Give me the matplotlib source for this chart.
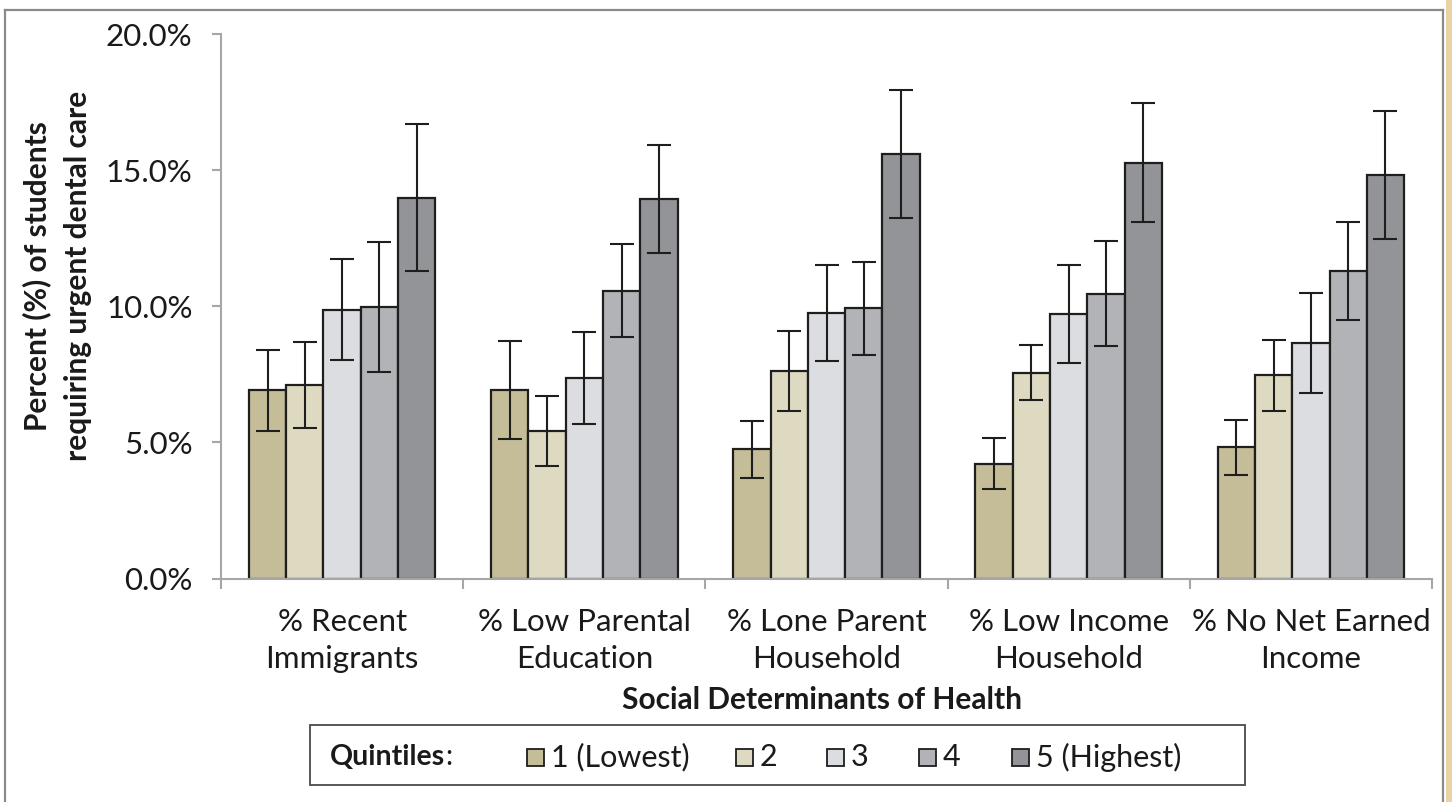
import matplotlib
matplotlib.use("Agg")
import matplotlib.pyplot as plt
import numpy as np
from matplotlib.patches import Rectangle
from matplotlib.lines import Line2D
from matplotlib.ticker import FixedLocator, FuncFormatter

# ---- data -------------------------------------------------------------
categories = ["% Recent\nImmigrants", "% Low Parental\nEducation",
              "% Lone Parent\nHousehold", "% Low Income\nHousehold",
              "% No Net Earned\nIncome"]
quintiles = ["1 (Lowest)", "2", "3", "4", "5 (Highest)"]

# percent of students requiring urgent dental care, by quintile
q1 = [6.91, 6.92, 4.74, 4.22, 4.82]
q2 = [7.10, 5.42, 7.62, 7.56, 7.46]
q3 = [9.88, 7.36, 9.76, 9.71, 8.64]
q4 = [9.97, 10.57, 9.92, 10.46, 11.30]
q5 = [13.99, 13.95, 15.59, 15.28, 14.83]

# 95% confidence half-widths
e1 = [1.50, 1.81, 1.06, 0.95, 1.00]
e2 = [1.57, 1.27, 1.46, 1.02, 1.31]
e3 = [1.85, 1.68, 1.76, 1.80, 1.83]
e4 = [2.40, 1.70, 1.70, 1.93, 1.79]
e5 = [2.70, 1.98, 2.34, 2.18, 2.35]

yticks = [0, 5, 10, 15, 20]

series = [q1, q2, q3, q4, q5]
errors = [e1, e2, e3, e4, e5]
colors = ["#c5bd98", "#dedac2", "#dcdde0", "#b2b3b6", "#939498"]

# ---- figure -----------------------------------------------------------
W, H = 1452, 802
fig = plt.figure(figsize=(W / 100, H / 100), dpi=100)
plt.rcParams["font.family"] = ["Lato", "DejaVu Sans"]
ink = "#1a1a1a"


def fx(px):
    return px / W


def fy(py):
    return 1 - py / H


ax = fig.add_axes([fx(221), fy(578.5), fx(1432) - fx(221), fy(34) - fy(578.5)])

x = np.arange(len(categories))
bw = 0.154
for k, (vals, errs, col) in enumerate(zip(series, errors, colors)):
    ax.bar(x + (k - 2) * bw, vals, width=bw, color=col, edgecolor="#1e1e1e",
           linewidth=1.6, zorder=2, label=quintiles[k])
    ax.errorbar(x + (k - 2) * bw, vals, yerr=errs, fmt="none",
                ecolor="#1e1e1e", elinewidth=1.5, capsize=8.5,
                capthick=1.5, zorder=3)

ax.set_xlim(-0.5, len(categories) - 0.5)
ax.set_ylim(0, 20)

axis_grey = "#a6a6a6"
for s in ["top", "right"]:
    ax.spines[s].set_visible(False)
for s in ["left", "bottom"]:
    ax.spines[s].set_color(axis_grey)
    ax.spines[s].set_linewidth(1.5)

ax.yaxis.set_major_locator(FixedLocator(yticks))
ax.yaxis.set_major_formatter(FuncFormatter(lambda v, p: f"{v:.1f}%"))
ax.tick_params(axis="y", direction="out", length=6.5, width=1.5,
               color=axis_grey, pad=14, labelsize=22.5, labelcolor=ink)

ax.set_xticks(x)
ax.set_xticklabels(categories, fontsize=22.5, color=ink, linespacing=1.4)
ax.tick_params(axis="x", which="major", length=0, pad=21)
ax.xaxis.set_minor_locator(FixedLocator(np.arange(-0.5, len(categories), 1.0)))
ax.tick_params(axis="x", which="minor", direction="out", length=7.5,
               width=1.5, color=axis_grey)

# axis titles
fig.text(fx(37), fy(276), "Percent (%) of students", rotation=90,
         ha="center", va="center", fontsize=21.5, fontweight="bold",
         color=ink)
fig.text(fx(78), fy(276), "requiring urgent dental care", rotation=90,
         ha="center", va="center", fontsize=21.5, fontweight="bold",
         color=ink)
fig.text(fx(822), fy(700), "Social Determinants of Health", ha="center",
         va="center", fontsize=21.5, fontweight="bold", color=ink)

# legend box
fig.add_artist(Rectangle((fx(310), fy(785)), fx(1245) - fx(310),
                         fy(725) - fy(785), transform=fig.transFigure,
                         facecolor="white", edgecolor="#4a4a4a",
                         linewidth=1.3))
t = fig.text(fx(330), fy(757), "Quintiles", ha="left", va="center",
             fontsize=20.5, fontweight="bold", color=ink)
fig.canvas.draw()
bb = t.get_window_extent()
fig.text(bb.x1 / W, fy(757), ":", ha="left", va="center", fontsize=20.5,
         color=ink)

legend_x = [527, 736, 827, 919, 1012]
sq = 17
for lx, col, lab in zip(legend_x, colors, quintiles):
    fig.add_artist(Rectangle((fx(lx), fy(757 + sq / 2)), sq / W, sq / H,
                             transform=fig.transFigure, facecolor=col,
                             edgecolor="#1e1e1e", linewidth=1.3))
    fig.text(fx(lx + sq + 7), fy(757), lab, ha="left", va="center",
             fontsize=22, color=ink)

# outer frame and page edge
frame_grey = "#8a8a8a"
fig.add_artist(Line2D([fx(5), fx(5)], [fy(10), 0], transform=fig.transFigure,
                      color=frame_grey, linewidth=1.6))
fig.add_artist(Line2D([fx(5), fx(1443)], [fy(10), fy(10)],
                      transform=fig.transFigure, color=frame_grey,
                      linewidth=1.6))
fig.add_artist(Line2D([fx(1443), fx(1443)], [fy(10), 0],
                      transform=fig.transFigure, color=frame_grey,
                      linewidth=1.6))
fig.add_artist(Rectangle((fx(1446), 0), fx(6), 1, transform=fig.transFigure,
                         facecolor="#e8d3a6", edgecolor="none"))

fig.savefig("out.png", dpi=100)
